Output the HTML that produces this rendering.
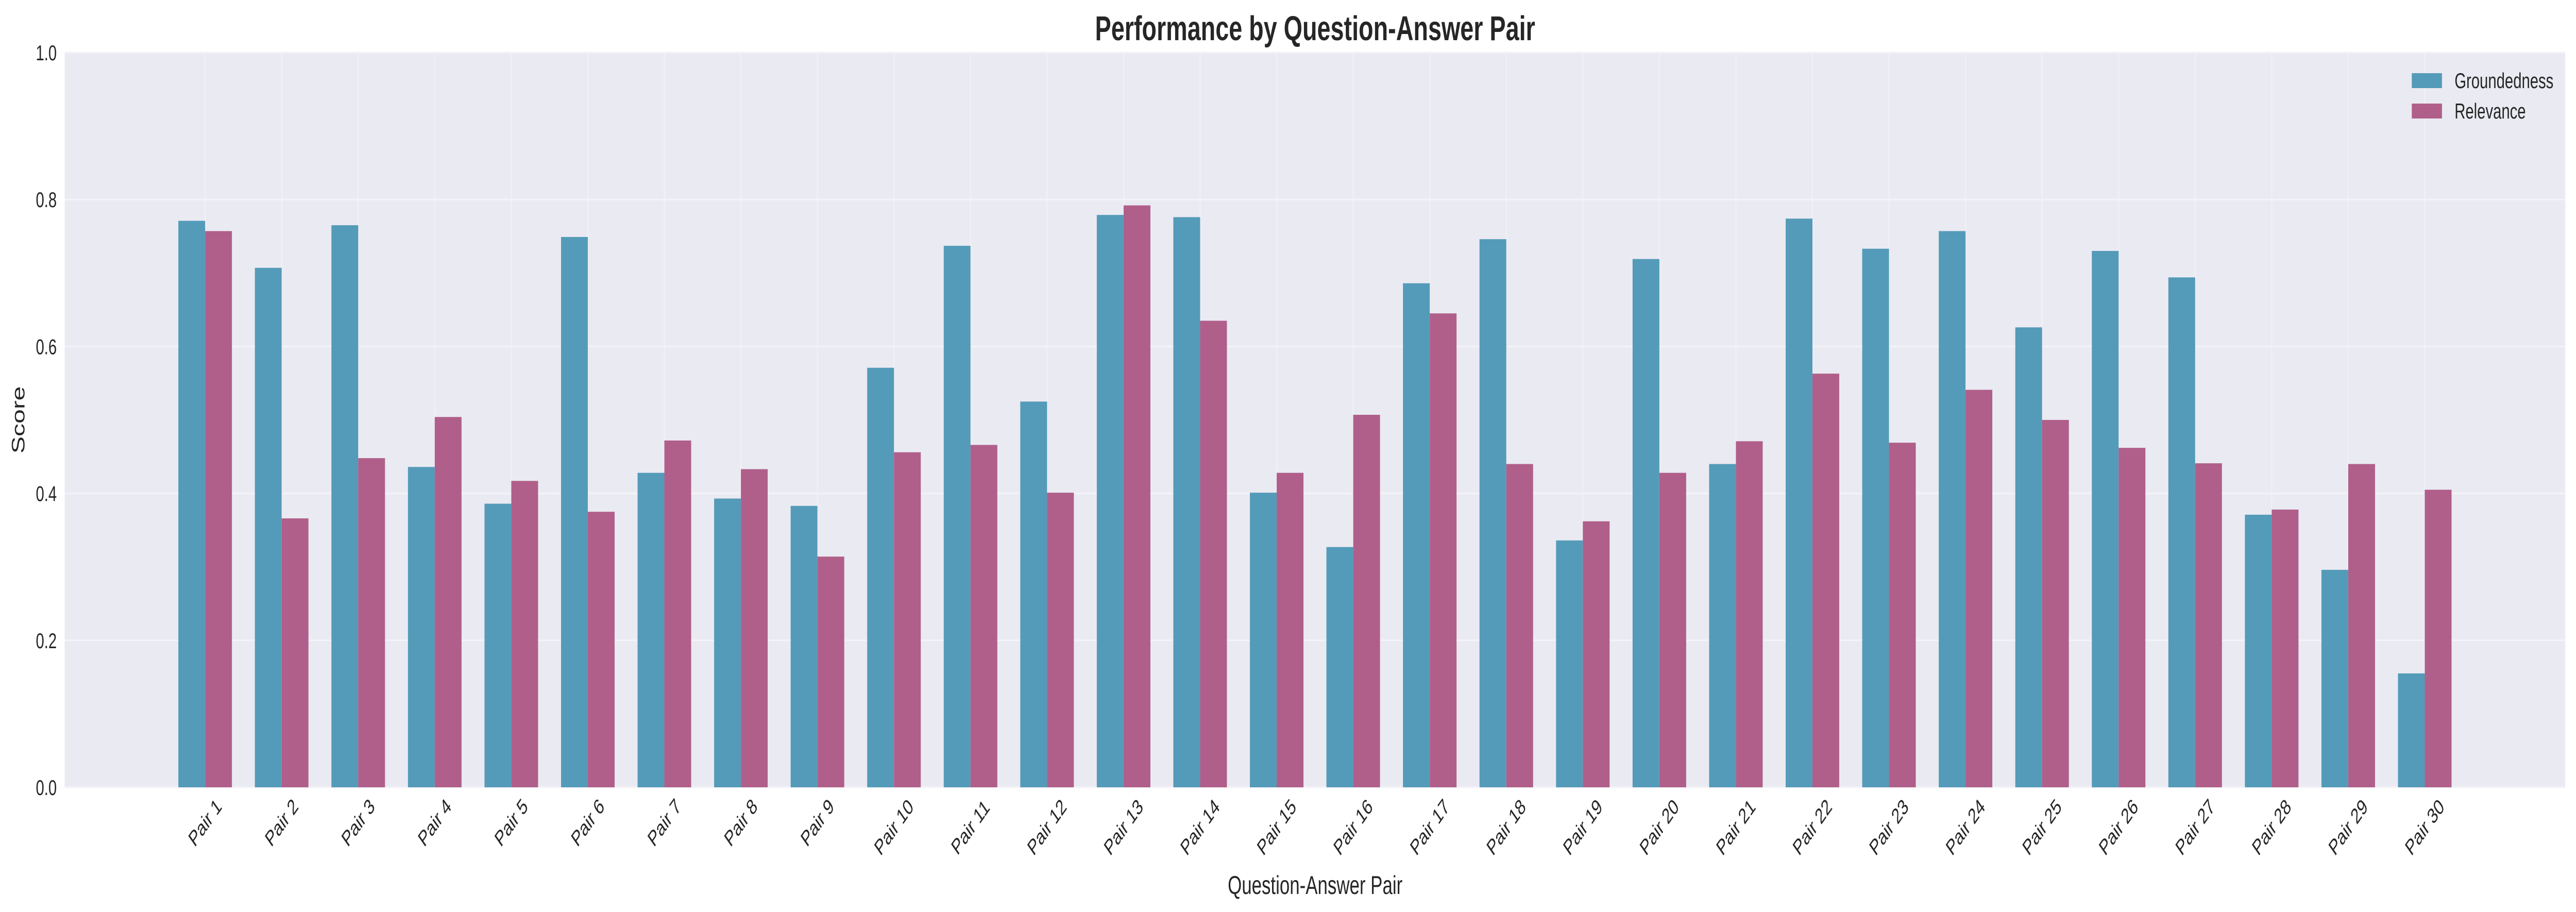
<!DOCTYPE html>
<html><head><meta charset="utf-8"><style>
html,body{margin:0;padding:0;background:#fff;overflow:hidden;width:100%;height:100%}
svg{display:block;font-family:"Liberation Sans",Arial,sans-serif;width:100vw;height:100vh}
</style></head><body>
<svg id="chart" viewBox="0 0 7169 1770" preserveAspectRatio="none">
<text x="3660" y="78" font-size="67" font-weight="bold" text-anchor="middle" fill="#262626">Performance by Question-Answer Pair</text>
<g id="plot"></g>
<text x="3660" y="1735" font-size="50" text-anchor="middle" fill="#262626">Question-Answer Pair</text>
<text transform="translate(68,815) rotate(-90)" font-size="50" text-anchor="middle" fill="#262626">Score</text>
<g>
<g>
<rect x="6712" y="142" width="84" height="29" fill="#549bb9"></rect>
<text x="6831" y="171" font-size="42" fill="#262626">Groundedness</text></g>
<g>
<rect x="6712" y="201" width="84" height="29" fill="#b05f8a"></rect>
<text x="6831" y="230" font-size="42" fill="#262626">Relevance</text></g>
</g>
</svg>
<script>
const categories = ["Pair 1","Pair 2","Pair 3","Pair 4","Pair 5","Pair 6","Pair 7","Pair 8","Pair 9","Pair 10","Pair 11","Pair 12","Pair 13","Pair 14","Pair 15","Pair 16","Pair 17","Pair 18","Pair 19","Pair 20","Pair 21","Pair 22","Pair 23","Pair 24","Pair 25","Pair 26","Pair 27","Pair 28","Pair 29","Pair 30"];
const groundedness = [0.771,0.707,0.765,0.436,0.386,0.749,0.428,0.393,0.383,0.571,0.737,0.525,0.779,0.776,0.401,0.327,0.686,0.746,0.336,0.719,0.440,0.774,0.733,0.757,0.626,0.730,0.694,0.371,0.296,0.155];
const relevance = [0.757,0.366,0.448,0.504,0.417,0.375,0.472,0.433,0.314,0.456,0.466,0.401,0.792,0.635,0.428,0.507,0.645,0.440,0.362,0.428,0.471,0.563,0.469,0.541,0.500,0.462,0.441,0.378,0.440,0.405];
const yTicks = [0.0,0.2,0.4,0.6,0.8,1.0];
const yTickLabels = ["0.0","0.2","0.4","0.6","0.8","1.0"];

const NS="http://www.w3.org/2000/svg";
const L=180,R=7139,T=102,B=1528;
const n=categories.length;
const xmin=-1.835, xmax=(n-1)+1.835;
function xs(v){return L+(v-xmin)/(xmax-xmin)*(R-L);}
function ys(v){return B-(v-0)/(1-0)*(B-T);}
const step=xs(1)-xs(0), bw=step*0.35;
const plot=document.getElementById('plot');
const svg=document.getElementById('chart');
function mk(tag,attrs,parent){const e=document.createElementNS(NS,tag);for(const k in attrs)e.setAttribute(k,attrs[k]);(parent||plot).appendChild(e);return e;}

const bg=mk('rect',{x:L,y:T,width:R-L,height:B-T,fill:'#eaeaf2'});



yTicks.forEach((t,i)=>{
  const g=mk('line',{x1:L,x2:R,y1:ys(t),y2:ys(t),stroke:'#f4f4f8','stroke-width':3});
  
  
  const tx=mk('text',{x:L-22,y:ys(t)+15,'font-size':42,'text-anchor':'end',fill:'#262626'},svg);
  tx.textContent=yTickLabels[i];
  
  
});
categories.forEach((c,i)=>{
  const g=mk('line',{x1:xs(i),x2:xs(i),y1:T,y2:B,stroke:'#f1f1f6','stroke-width':3});
  
  
});
categories.forEach((c,i)=>{
  const b1=mk('rect',{x:xs(i)-bw,y:ys(groundedness[i]),width:bw,height:ys(0)-ys(groundedness[i]),fill:'#549bb9'});
  
  
  const b2=mk('rect',{x:xs(i),y:ys(relevance[i]),width:bw,height:ys(0)-ys(relevance[i]),fill:'#b05f8a'});
  
  
});
categories.forEach((c,i)=>{
  const t=mk('text',{'font-size':42,'text-anchor':'middle',fill:'#262626'},svg);
  t.textContent=c;
  
  
  const w=(c.length>6)?135:110;
  const h=36;
  const half=(w*0.7071+h*0.7071)/2;
  const cy=1545+half;
  t.setAttribute('x',xs(i));
  t.setAttribute('y',cy+14);
  t.setAttribute('transform','rotate(-45 '+xs(i)+' '+cy+')');
});
</script>
</body></html>
